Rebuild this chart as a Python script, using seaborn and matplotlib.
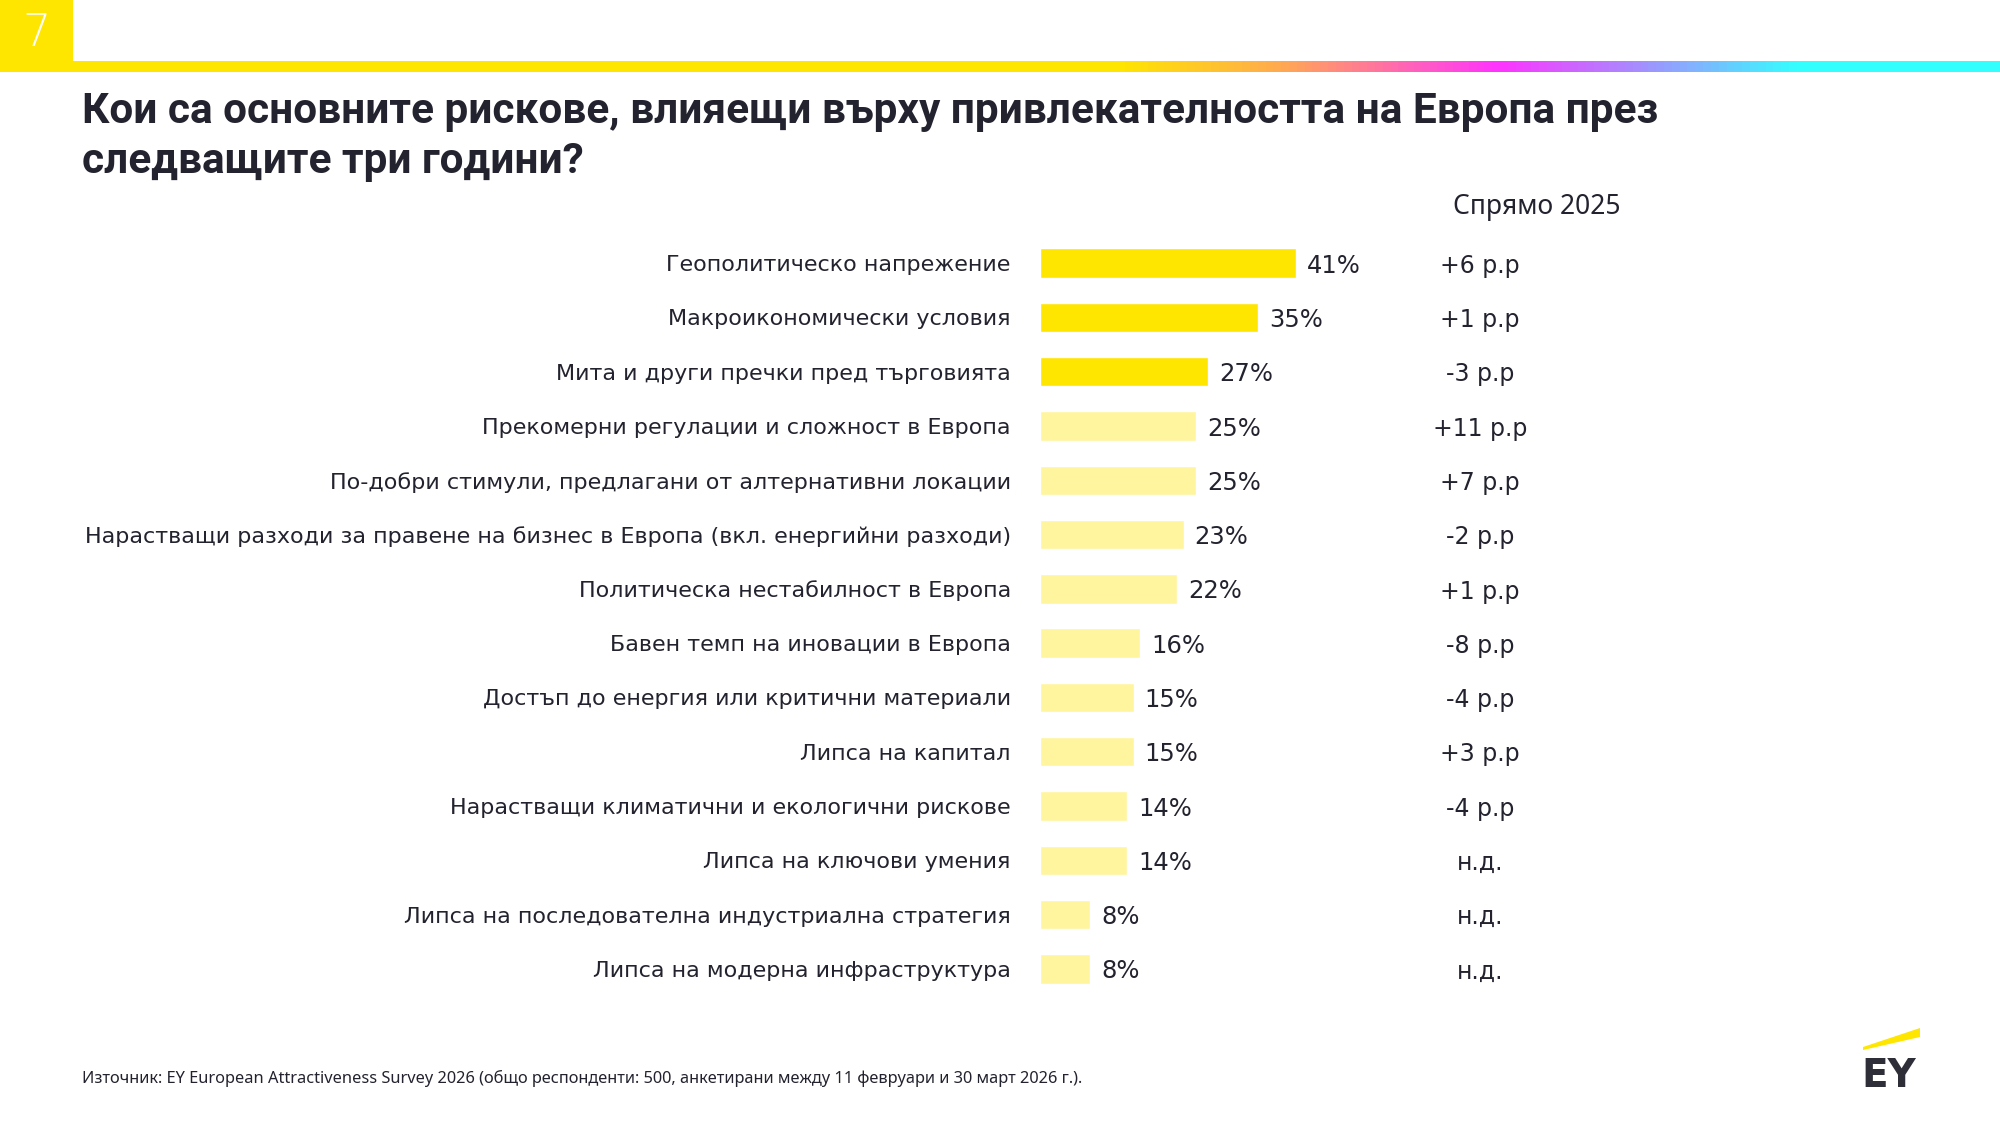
import numpy as np
import pandas as pd
import matplotlib
matplotlib.use("Agg")
import matplotlib.pyplot as plt
import matplotlib.transforms as mtransforms
from matplotlib.colors import LinearSegmentedColormap
from matplotlib.patches import Rectangle, Polygon
import seaborn as sns

# Data
categories = [
    "Геополитическо напрежение",
    "Макроикономически условия",
    "Мита и други пречки пред търговията",
    "Прекомерни регулации и сложност в Европа",
    "По-добри стимули, предлагани от алтернативни локации",
    "Нарастващи разходи за правене на бизнес в Европа (вкл. енергийни разходи)",
    "Политическа нестабилност в Европа",
    "Бавен темп на иновации в Европа",
    "Достъп до енергия или критични материали",
    "Липса на капитал",
    "Нарастващи климатични и екологични рискове",
    "Липса на ключови умения",
    "Липса на последователна индустриална стратегия",
    "Липса на модерна инфраструктура",
]
shares = [41, 35, 27, 25, 25, 23, 22, 16, 15, 15, 14, 14, 8, 8]
vs_2025 = ["+6 p.p", "+1 p.p", "-3 p.p", "+11 p.p", "+7 p.p", "-2 p.p", "+1 p.p",
           "-8 p.p", "-4 p.p", "+3 p.p", "-4 p.p", "н.д.", "н.д.", "н.д."]

title_lines = ["Кои са основните рискове, влияещи върху привлекателността на Европа през",
               "следващите три години?"]
source = ("Източник: EY European Attractiveness Survey 2026 (общо респонденти: 500, "
          "анкетирани между 11 февруари и 30 март 2026 г.).")

df = pd.DataFrame({"risk": categories, "share": shares})

TEXT = "#23232F"
palette = ["#FFE600"] * 3 + ["#FFF59E"] * (len(categories) - 3)

sns.set_theme(style="white")
plt.rcParams["font.family"] = ["DejaVu Sans"]

W, H = 2000, 1125
fig = plt.figure(figsize=(20, 11.25), dpi=100)

def fx(px):
    return px / W

def fy(py):
    return 1 - py / H

# header: yellow box + gradient strip
strip = fig.add_axes([0, fy(72), 1, 11 / H])
cmap = LinearSegmentedColormap.from_list(
    "ey", [(0, "#FFE600"), (0.56, "#FFE600"), (0.64, "#FFAA50"), (0.75, "#FF33FF"),
           (0.85, "#80B4FF"), (0.90, "#33FFFF"), (1, "#33FFFF")])
strip.imshow(np.linspace(0, 1, 512)[None, :], aspect="auto", cmap=cmap)
strip.axis("off")
fig.patches.append(Rectangle((0, fy(72)), fx(73), 72 / H, transform=fig.transFigure,
                             facecolor="#FFE600", edgecolor="none", zorder=5))
fig.text(fx(36), fy(34), "7", color="white", fontsize=32, ha="center", va="center",
         fontweight="light", zorder=6)

# title
for i, line in enumerate(title_lines):
    fig.text(fx(82), fy(111 + 50 * i), line, fontsize=30.5, fontweight="bold",
             color=TEXT, ha="left", va="center", family=["Roboto", "DejaVu Sans"])

# bar chart
ax = fig.add_axes([fx(1040), fy(996), fx(400), 760 / H])
sns.barplot(data=df, x="share", y="risk", hue="risk", palette=palette,
            orient="h", legend=False, width=0.54, ax=ax, saturation=1)
ax.set_xlim(0, 400 / 6.24)
ax.set_xlabel("")
ax.set_ylabel("")
ax.set_xticks([])
sns.despine(ax=ax, left=True, bottom=True)
ax.tick_params(axis="y", length=0, pad=21, labelsize=16, labelcolor=TEXT)

for cont in ax.containers:
    for t in ax.bar_label(cont, fmt="%d%%", padding=8, fontsize=17.5, color=TEXT):
        t.set_va("center_baseline")

# comparison column
trans = mtransforms.blended_transform_factory(fig.transFigure, ax.transData)
for i, v in enumerate(vs_2025):
    ax.text(fx(1480), i + 0.05, v, transform=trans, ha="center", va="center",
            fontsize=17, color=TEXT)
fig.text(fx(1537), fy(207), "Спрямо 2025", fontsize=19, fontweight="bold",
         color=TEXT, ha="center", va="center", family=["Noto Sans", "DejaVu Sans"])

# footer
fig.text(fx(82), fy(1078), source, fontsize=11.8, color=TEXT, ha="left", va="center",
         family=["Noto Sans", "DejaVu Sans"])

# EY logo
fig.patches.append(Polygon([(fx(1863), fy(1047)), (fx(1863), fy(1050)),
                            (fx(1920), fy(1037)), (fx(1920), fy(1028))],
                           closed=True, transform=fig.transFigure,
                           facecolor="#FFE600", edgecolor="none"))
fig.text(fx(1861), fy(1087), "EY", fontsize=28, fontweight="bold", color="#2E2E38",
         ha="left", va="baseline")

fig.savefig("out.png", dpi=100, facecolor="white")
